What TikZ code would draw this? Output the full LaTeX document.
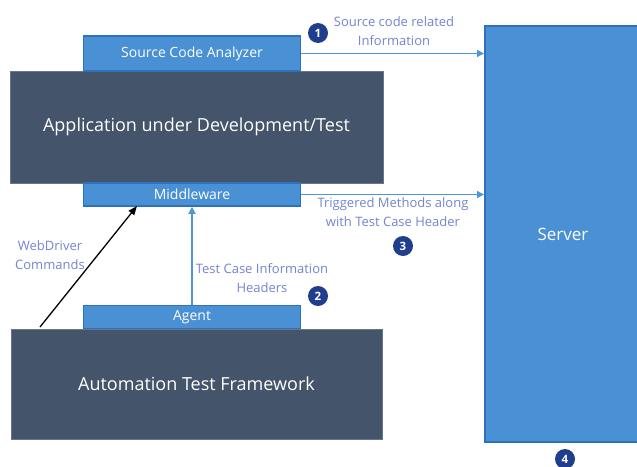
\documentclass[tikz,border=0pt]{standalone}
\usepackage{fontspec}
\setmainfont{Open Sans}
\usetikzlibrary{arrows.meta}
\definecolor{slate}{HTML}{44546A}
\definecolor{boxblue}{HTML}{4A90D4}
\definecolor{edgeblue}{HTML}{2E72BE}
\definecolor{lineblue}{HTML}{4F95DA}
\definecolor{labelblue}{HTML}{7385D0}
\definecolor{badge}{HTML}{1F3E8E}
\tikzset{
  x=1pt, y=-1pt,
  darkbox/.style={draw=slate!80!white, fill=slate, line width=0.8pt, text=white, inner sep=0pt,
    font=\fontsize{18}{21}\selectfont},
  bluebox/.style={draw=edgeblue, fill=boxblue, line width=1.6pt, text=white, inner sep=0pt,
    font=\fontsize{14}{16}\selectfont},
  flow/.style={draw=lineblue, line width=1.4pt, -{Triangle[length=7pt,width=7pt]}},
  cmd/.style={draw=black, line width=1.3pt, -{Triangle[length=9pt,width=7pt]}},
  note/.style={text=labelblue, align=center, inner sep=0pt, font=\fontsize{13}{19}\selectfont},
  num/.style={circle, fill=badge, text=white, inner sep=0pt, minimum size=20pt,
    font=\bfseries\fontsize{11.5}{13}\selectfont},
}
\begin{document}
\begin{tikzpicture}
\useasboundingbox[fill=white] (0,0) rectangle (637,466);

% main blocks
\node[darkbox, minimum width=373pt, minimum height=112pt] (app) at (196.5,127) {Application under Development/Test};
\node[darkbox, minimum width=371pt, minimum height=110pt] (atf) at (196.5,384) {Automation Test Framework};
\node[bluebox, minimum width=217pt, minimum height=35pt] (sca) at (192,53.5) {Source Code Analyzer};
\node[bluebox, minimum width=217pt, minimum height=23pt] (mw) at (192,194.5) {Middleware};
\node[bluebox, minimum width=217pt, minimum height=23pt] (agent) at (192,317) {Agent};
\node[draw=edgeblue, fill=boxblue, line width=2pt, text=white, inner sep=0pt,
      minimum width=156pt, minimum height=416pt, font=\fontsize{17}{20}\selectfont] (srv) at (563,234) {Server};

% connectors
\coordinate (scaout) at (sca.east);
\coordinate (srvtop) at (srv.west |- sca.east);
\draw[flow] (scaout) -- (srvtop);
\coordinate (mwout) at (mw.east);
\coordinate (srvmid) at (srv.west |- mw.east);
\draw[flow] (mwout) -- (srvmid);
\draw[flow] (agent.north) -- (mw.south);
\coordinate (wdstart) at (40,327);
\coordinate (wdend) at (137,206);
\draw[cmd] (wdstart) -- (wdend);

% labels
\node[note] (l1) at (394,31) {Source code related\\Information};
\node[note] (l3) at (393,212) {Triggered Methods along\\with Test Case Header};
\node[note] (l2) at (262,278) {Test Case Information\\Headers};
\node[note] (lwd) at (50,255) {WebDriver\\Commands};

% numbered badges
\node[num] (n1) at (318,33) {1};
\node[num] (n2) at (318,296) {2};
\node[num] (n3) at (403,246) {3};
\node[num] (n4) at (565,459) {4};
\end{tikzpicture}
\end{document}
